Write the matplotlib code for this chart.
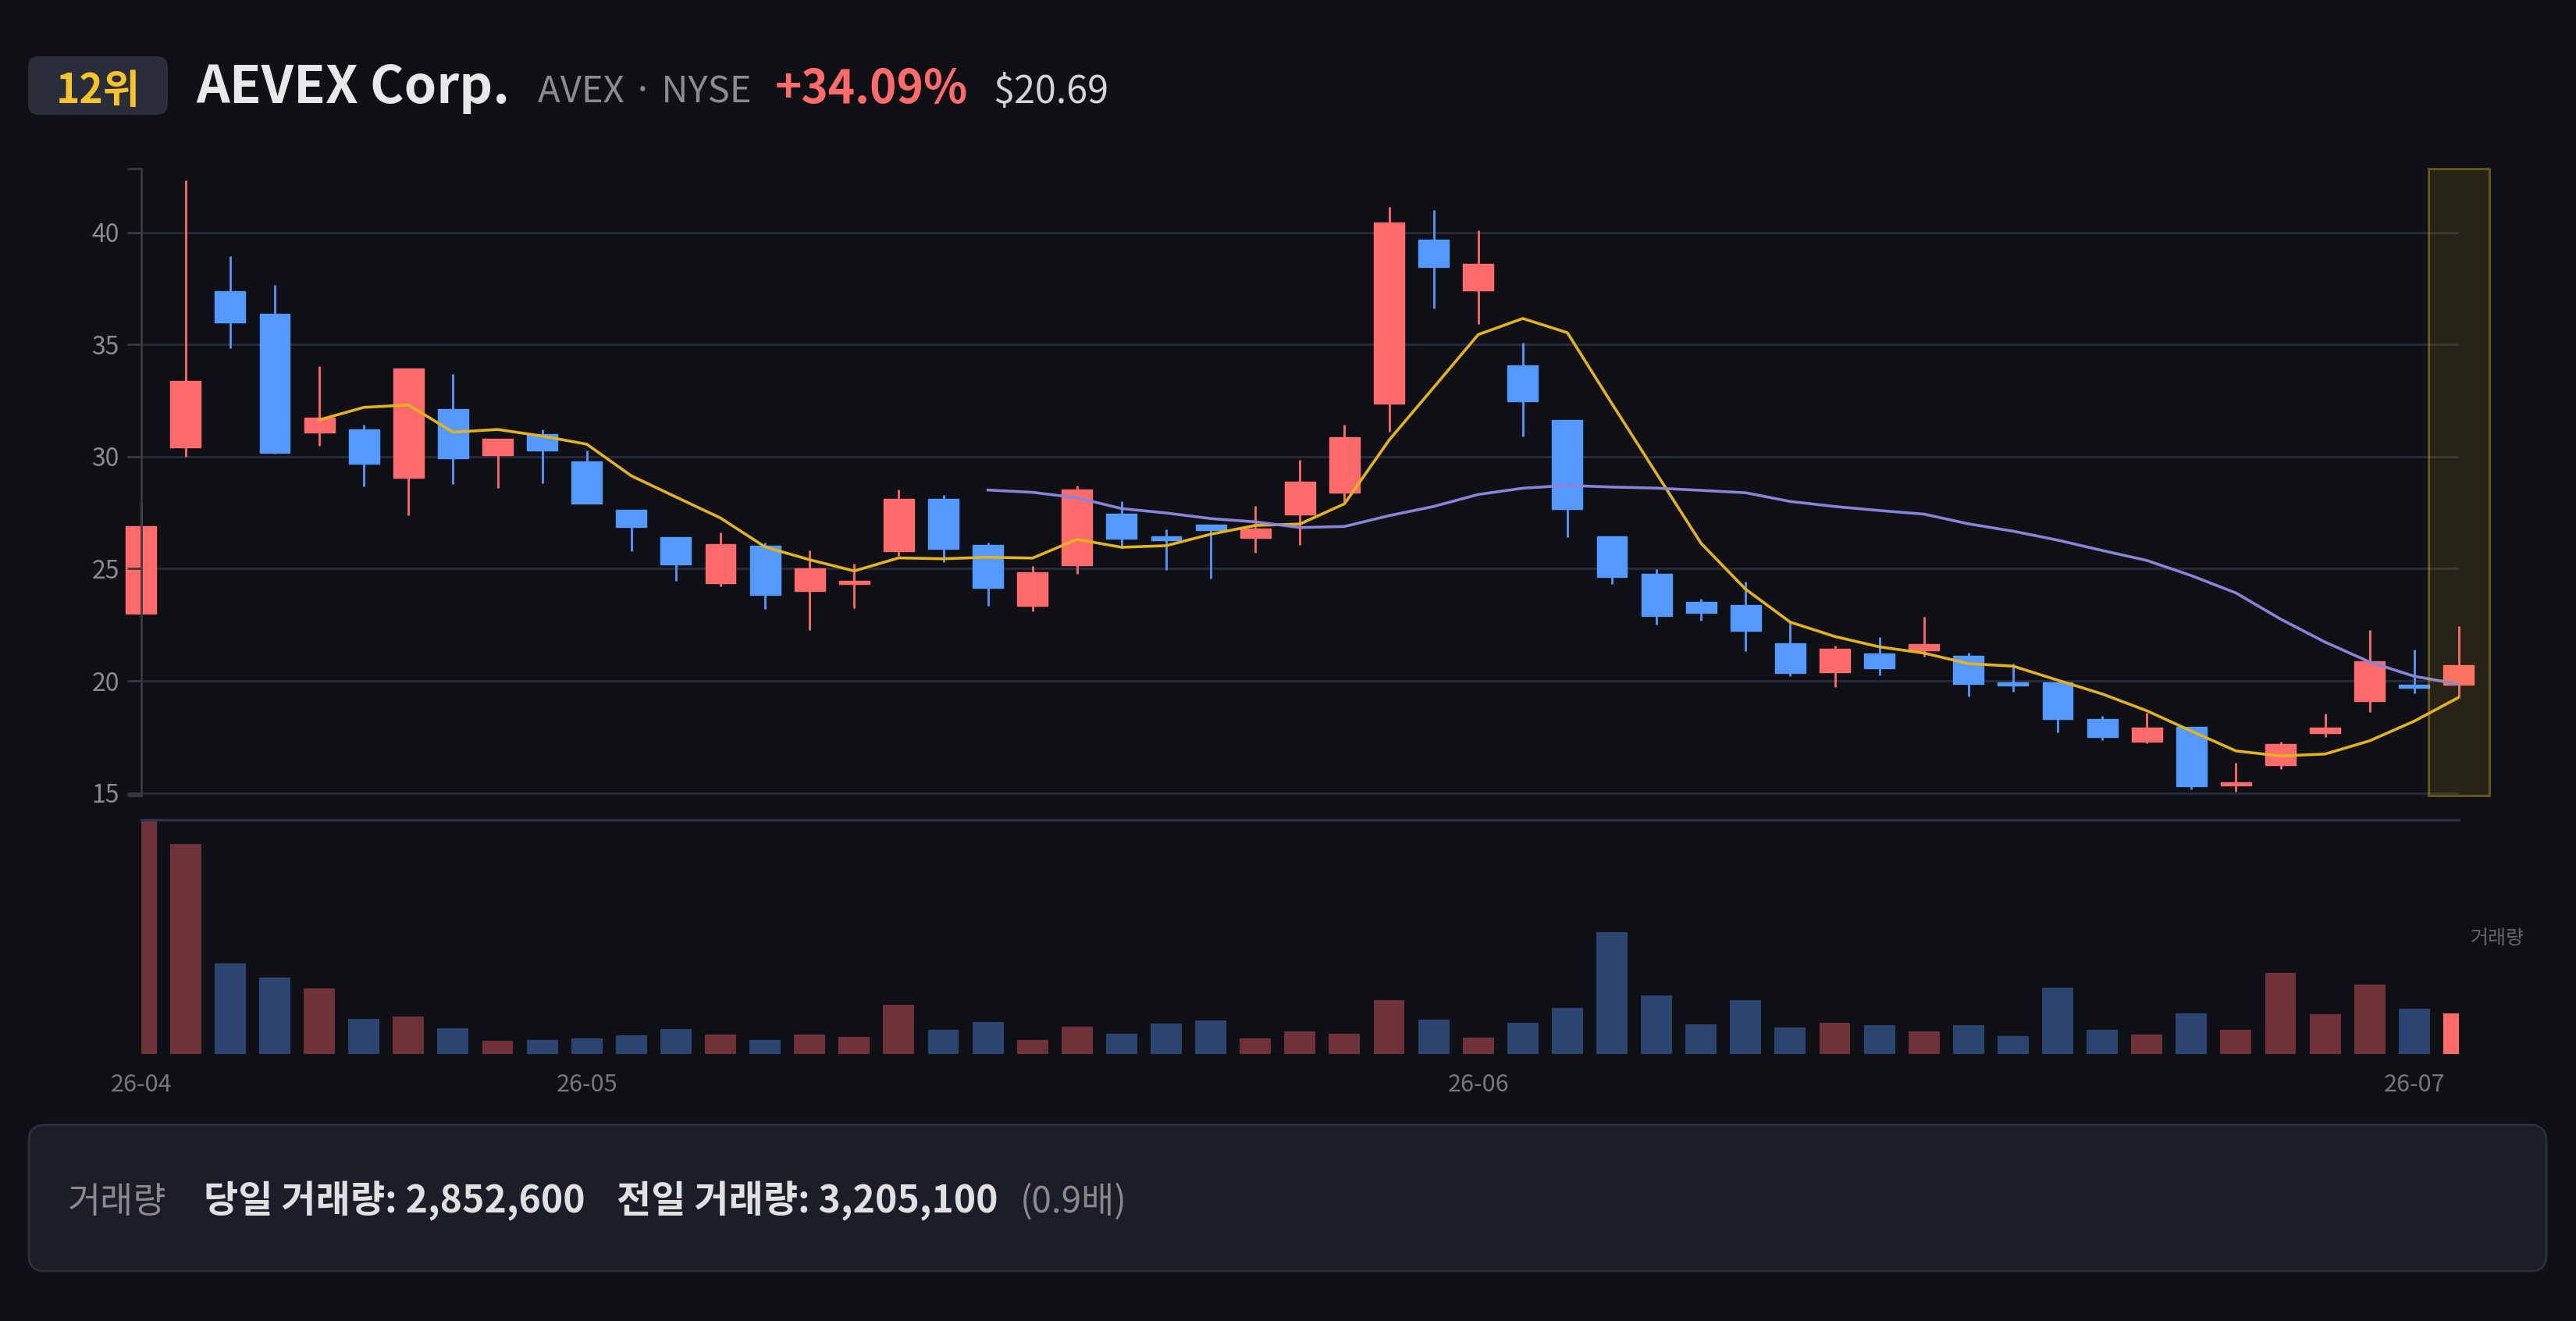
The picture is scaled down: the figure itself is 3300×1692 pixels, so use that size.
import matplotlib
matplotlib.use("Agg")
import matplotlib.pyplot as plt
from matplotlib.patches import Rectangle, FancyBboxPatch
import numpy as np
import pandas as pd

plt.rcParams['font.family'] = ['Noto Sans CJK KR', 'DejaVu Sans']

# ---------------- data ----------------
opens = [23.01, 30.40, 37.37, 36.37, 31.06, 31.23, 29.04, 32.12, 30.06, 31.02,
         29.80, 27.62, 26.41, 24.37, 26.02, 24.01, 24.33, 25.79, 28.10, 26.07,
         23.35, 25.17, 27.47, 26.43, 26.96, 26.39, 27.43, 28.38, 32.38, 39.66,
         37.41, 34.07, 31.63, 26.45, 24.79, 23.52, 23.37, 21.67, 20.40, 21.22,
         21.35, 21.12, 19.85, 19.95, 18.29, 17.29, 17.95, 15.34, 16.25, 17.66,
         19.10, 19.74, 19.82]
highs = [27.94, 42.32, 38.96, 37.66, 34.05, 31.44, 33.93, 33.69, 30.78, 31.23,
         30.27, 27.62, 26.41, 26.62, 26.15, 25.83, 25.22, 28.53, 28.28, 26.15,
         25.11, 28.72, 28.00, 26.77, 26.96, 27.81, 29.87, 31.44, 41.15, 41.00,
         40.11, 35.07, 31.63, 26.45, 24.98, 23.67, 24.41, 22.62, 21.58, 21.97,
         22.86, 21.24, 20.78, 19.95, 18.42, 18.57, 17.95, 16.34, 17.29, 18.55,
         22.27, 21.39, 22.43]
lows = [23.00, 29.98, 34.84, 30.12, 30.50, 28.66, 27.38, 28.78, 28.62, 28.81,
        27.89, 25.79, 24.45, 24.20, 23.22, 22.28, 23.24, 25.58, 25.30, 23.33,
        23.11, 24.79, 25.92, 24.94, 24.56, 25.73, 26.07, 27.91, 31.12, 36.62,
        35.90, 30.91, 26.41, 24.32, 22.50, 22.69, 21.33, 20.20, 19.72, 20.23,
        21.10, 19.29, 19.50, 17.70, 17.36, 17.21, 15.15, 15.06, 16.06, 17.48,
        18.61, 19.44, 19.25]
closes = [26.91, 33.39, 35.99, 30.17, 31.74, 29.70, 33.93, 29.91, 30.78, 30.27,
          27.89, 26.87, 25.20, 26.09, 23.82, 25.03, 24.37, 28.11, 25.90, 24.16,
          24.84, 28.55, 26.34, 26.26, 26.72, 26.79, 28.87, 30.85, 40.45, 38.47,
          38.58, 32.46, 27.68, 24.62, 22.88, 23.03, 22.22, 20.35, 21.42, 20.56,
          21.65, 19.86, 19.80, 18.29, 17.48, 17.91, 15.32, 15.38, 17.17, 17.91,
          20.86, 19.70, 20.69]
volumes = [16600000, 14870000, 6420000, 5420000, 4650000, 2470000, 2660000, 1810000,
           940000, 1000000, 1110000, 1330000, 1770000, 1370000, 980000, 1370000,
           1220000, 3510000, 1730000, 2290000, 1010000, 1960000, 1420000, 2180000,
           2360000, 1090000, 1610000, 1440000, 3820000, 2420000, 1180000, 2200000,
           3250000, 8630000, 4130000, 2100000, 3800000, 1860000, 2230000, 2030000,
           1620000, 2030000, 1270000, 4720000, 1730000, 1370000, 2880000, 1730000,
           5780000, 2820000, 4910000, 3205100, 2852600]
tick_positions = [0, 10, 30, 51]
tick_labels = ['26-04', '26-05', '26-06', '26-07']
price_ticks = [15, 20, 25, 30, 35, 40]

rank_text = '12위'
name_text = 'AEVEX Corp.'
ticker_text = 'AVEX · NYSE'
change_text = '+34.09%'
price_text = '$20.69'
vol_label = '거래량'
today_vol_text = '당일 거래량: 2,852,600'
prev_vol_text = '전일 거래량: 3,205,100'
ratio_text = '(0.9배)'

# ---------------- style ----------------
BG = '#0f1117'
UP = '#ff6b6b'
DOWN = '#5598ff'
UP_VOL = '#6e3238'
DOWN_VOL = '#2b4470'
MA5_C = '#e3b21f'
MA20_C = '#8884d8'
GRID = '#282b39'
SPINE = '#3a3a3f'

W, H = 3300, 1692
fig = plt.figure(figsize=(W / 100, H / 100), dpi=100, facecolor=BG)

def fx(x):
    return x / W

def fy(y):
    return 1 - y / H

# background / annotation layer in pixel coordinates
bg = fig.add_axes([0, 0, 1, 1], zorder=0)
bg.set_xlim(0, W)
bg.set_ylim(H, 0)
bg.axis('off')
bg.set_facecolor('none')

x = np.arange(len(closes))
o = np.array(opens)
h = np.array(highs)
l = np.array(lows)
c = np.array(closes)
up = c >= o
ma5 = pd.Series(c).rolling(5).mean()
ma20 = pd.Series(c).rolling(20).mean()

ymin, ymax = 14.885, 42.855
left_px, right_px = 180.7, 3149.9
ax = fig.add_axes([fx(left_px), fy(1019), fx(right_px) - fx(left_px), (1019 - 215.7) / H], zorder=2)
ax.set_facecolor('none')
ax.set_xlim(0, len(closes) - 1)
ax.set_ylim(ymin, ymax)
for s in ['top', 'right', 'bottom']:
    ax.spines[s].set_visible(False)
ax.spines['left'].set_color(SPINE)
ax.spines['left'].set_linewidth(2)
ax.set_yticks(price_ticks)
ax.set_yticks([ymin, ymax], minor=True)
ax.tick_params(axis='y', which='both', length=13, width=2, color=SPINE,
               labelcolor='#8c8c8c', labelsize=23, pad=7)
ax.tick_params(axis='x', which='both', bottom=False, labelbottom=False)
ax.set_axisbelow(False)
for t in price_ticks:
    ax.axhline(t, color=GRID, linewidth=2, zorder=1)

colors = [UP if u else DOWN for u in up]
ax.vlines(x, l, h, colors=colors, linewidth=2, zorder=1.6, clip_on=False)
body_h = np.maximum(np.abs(c - o), 0.13)
ax.bar(x, body_h, bottom=np.minimum(o, c), width=0.68, color=colors,
       edgecolor=colors, linewidth=1, zorder=1.8, clip_on=False)
ax.plot(x, ma5, color=MA5_C, linewidth=2.6, zorder=2.2, solid_joinstyle='round')
ax.plot(x, ma20, color=MA20_C, linewidth=2.6, zorder=2.2, solid_joinstyle='round')

hl = Rectangle((len(closes) - 1 - 0.69, ymin), 1.38, ymax - ymin,
               facecolor=(0.85, 0.70, 0.10, 0.12), edgecolor=(0.85, 0.70, 0.10, 0.38),
               linewidth=2.2, zorder=6, clip_on=False)
ax.add_patch(hl)

# volume panel
axv = fig.add_axes([fx(left_px), fy(1350), fx(right_px) - fx(left_px), 300 / H], zorder=2)
axv.set_facecolor('none')
axv.set_xlim(0, len(closes) - 1)
axv.set_ylim(0, max(volumes))
for s in ['left', 'right', 'bottom']:
    axv.spines[s].set_visible(False)
axv.spines['top'].set_color('#2e3250')
axv.spines['top'].set_linewidth(2.4)
vcolors = [UP_VOL if u else DOWN_VOL for u in up]
vcolors[-1] = UP if up[-1] else DOWN
axv.bar(x, volumes, width=0.70, color=vcolors, zorder=2)
axv.set_yticks([])
axv.set_xticks(tick_positions)
axv.set_xticklabels(tick_labels)
axv.tick_params(axis='x', length=0, labelcolor='#777777', labelsize=22, pad=17)

bg.text(3199, 1202, vol_label, color='#666666', fontsize=18, ha='center', va='center')

# header
bg.add_patch(FancyBboxPatch((36, 72), 179, 75, boxstyle='round,pad=0,rounding_size=14',
                            facecolor='#2a2d3a', edgecolor='none'))
bg.text(125.5, 132, rank_text, color='#f5c32c', fontsize=37, fontweight='bold',
        ha='center', va='baseline')
bg.text(251, 132, name_text, color='#e8e8e8', fontsize=48, fontweight='bold',
        ha='left', va='baseline')
bg.text(689, 132, ticker_text, color='#8c8c8c', fontsize=34, ha='left', va='baseline')
bg.text(993, 132, change_text, color=UP, fontsize=42, fontweight='bold',
        ha='left', va='baseline')
bg.text(1272, 132, price_text, color='#d4d4d4', fontsize=35, ha='left', va='baseline')

# bottom info box
bg.add_patch(FancyBboxPatch((37, 1441), 3225, 187, boxstyle='round,pad=0,rounding_size=20',
                            facecolor='#1b1e29', edgecolor='#2c2f3d', linewidth=2))
bg.text(87, 1553, vol_label, color='#8a8a8a', fontsize=33, ha='left', va='baseline')
bg.text(261, 1553, today_vol_text, color='#e0e0e0', fontsize=34.6, fontweight='bold',
        ha='left', va='baseline')
bg.text(790, 1553, prev_vol_text, color='#e0e0e0', fontsize=34.6, fontweight='bold',
        ha='left', va='baseline')
bg.text(1307, 1553, ratio_text, color='#8a8a8a', fontsize=33, ha='left', va='baseline')

fig.savefig('out.png', dpi=100, facecolor=BG)
